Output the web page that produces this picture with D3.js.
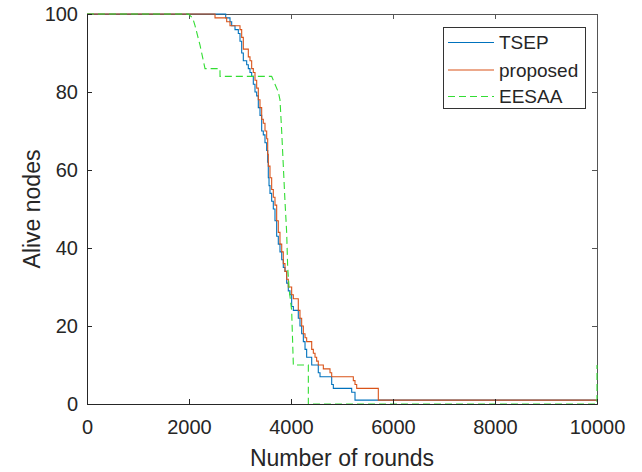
<!DOCTYPE html>
<html>
<head>
<meta charset="utf-8">
<script src="https://cdn.jsdelivr.net/npm/d3@7"></script>
<style>
  html, body { margin: 0; padding: 0; background: #fff; }
  svg { display: block; font-family: "Liberation Sans", Arial, Helvetica, sans-serif; }
</style>
</head>
<body>
<svg id="chart" width="642" height="472"></svg>
<script>
// ---- data ----
const xTicks = [0, 2000, 4000, 6000, 8000, 10000];
const yTicks = [0, 20, 40, 60, 80, 100];
const seriesNames = ["TSEP", "proposed", "EESAA"];

const tsepRounds = [0,2720,2804,2837,2902,2967,3000,3033,3065,3131,3163,3196,3229,3261,3294,3327,3359,3392,3425,3457,3490,3523,3543,3555,3569,3588,3621,3653,3686,3719,3751,3784,3818,3849,3882,3915,3947,3980,4013,4046,4143,4176,4209,4242,4275,4307,4406,4535,4569,4798,4830,5190,5255,10000];
const tsepAlive  = [100,99,98,97,96,95,93,90,88,87,86,85,84,82,80,79,76,74,70,69,67,65,62,58,56,54,52,50,47,43,41,39,37,35,34,31,29,28,25,24,22,20,18,16,14,12,10,8,7,5,4,3,1,1];

const propRounds = [0,2510,2739,2804,3000,3033,3065,3163,3196,3229,3261,3294,3327,3359,3392,3425,3457,3490,3523,3543,3555,3588,3621,3653,3686,3719,3751,3784,3818,3849,3882,3915,3947,4013,4046,4143,4176,4209,4242,4275,4307,4406,4438,4471,4503,4535,4634,4765,4798,5222,5255,5288,5712,10000];
const propAlive  = [100,99,98,97,96,94,91,89,88,86,85,83,81,78,76,73,72,70,68,64,61,58,55,53,51,47,44,41,39,36,34,32,30,28,27,24,22,20,18,17,16,14,13,12,11,10,9,8,7,6,5,4,1,1];

const eesaaRounds = [0,1987,2072,2118,2216,2314,2608,2608,3621,3751,3784,3817,3882,3915,3935,3967,4013,4046,4340,4340,10000,10000];
const eesaaAlive  = [100,100,99,97,92,86,86,84,84,80,78,70,52,44,35,29,24,10,10,0,0,10];

// ---- layout ----
const svg = d3.select("#chart");
const L = 87, R = 597, T = 14, B = 404;
const x = d3.scaleLinear().domain([0, 10000]).range([L, R]);
const y = d3.scaleLinear().domain([0, 100]).range([B, T]);
const textColor = "#262626";

svg.append("rect").attr("width", 642).attr("height", 472).attr("fill", "#fff");

// box (top/right)
const topAx = svg.append("g").attr("transform", `translate(0,${T})`)
  .call(d3.axisTop(x).tickValues(xTicks).tickSize(-5).tickFormat(""));
const rightAx = svg.append("g").attr("transform", `translate(${R},0)`)
  .call(d3.axisRight(y).tickValues(yTicks).tickSize(-5).tickFormat(""));
[topAx, rightAx].forEach(g => {
  g.selectAll("path").attr("stroke", "#555").attr("stroke-width", 1);
  g.selectAll("line").attr("stroke", "#555");
});

// series
const series = [
  { name: "TSEP", r: tsepRounds, a: tsepAlive, color: "#0072BD", dash: null, curve: d3.curveStepAfter },
  { name: "proposed", r: propRounds, a: propAlive, color: "#D95319", dash: null, curve: d3.curveStepAfter },
  { name: "EESAA", r: eesaaRounds, a: eesaaAlive, color: "#33dd33", dash: "7,4", curve: d3.curveLinear }
];

series.forEach(s => {
  const pts = s.r.map((v, i) => [v, s.a[i]]);
  const line = d3.line().x(d => x(d[0])).y(d => y(d[1])).curve(s.curve);
  svg.append("path").datum(pts)
    .attr("d", line)
    .attr("fill", "none")
    .attr("stroke", s.color)
    .attr("stroke-width", 1.1)
    .attr("stroke-dasharray", s.dash);
});

// bottom / left axes
const xAx = svg.append("g").attr("transform", `translate(0,${B})`)
  .call(d3.axisBottom(x).tickValues(xTicks).tickSize(-5).tickPadding(16).tickFormat(d3.format("d")));
const yAx = svg.append("g").attr("transform", `translate(${L},0)`)
  .call(d3.axisLeft(y).tickValues(yTicks).tickSize(-5).tickPadding(9).tickFormat(d3.format("d")));
[xAx, yAx].forEach(g => {
  g.selectAll("path").attr("stroke", textColor).attr("stroke-width", 1);
  g.selectAll("line").attr("stroke", textColor);
  g.selectAll("text").attr("fill", textColor).attr("font-size", 20)
    .attr("font-family", "'Liberation Sans', Arial, sans-serif");
});

// axis labels
svg.append("text")
  .attr("x", (L + R) / 2).attr("y", 466)
  .attr("text-anchor", "middle")
  .attr("font-size", 23).attr("fill", textColor)
  .text("Number of rounds");
svg.append("text")
  .attr("transform", `translate(40,${(T + B) / 2}) rotate(-90)`)
  .attr("text-anchor", "middle")
  .attr("font-size", 23).attr("fill", textColor)
  .text("Alive nodes");

// legend
const lg = svg.append("g");
lg.append("rect").attr("x", 443.5).attr("y", 27.5).attr("width", 142).attr("height", 81)
  .attr("fill", "#fff").attr("stroke", "#333").attr("stroke-width", 1);
const legY = [42.5, 70, 96.5];
series.forEach((s, i) => {
  lg.append("line").attr("x1", 448).attr("x2", 494)
    .attr("y1", legY[i]).attr("y2", legY[i])
    .attr("stroke", s.color).attr("stroke-width", 1.1)
    .attr("stroke-dasharray", s.dash);
  lg.append("text").attr("x", 499).attr("y", legY[i])
    .attr("dy", "0.35em").attr("font-size", 19).attr("fill", textColor)
    .text(seriesNames[i]);
});
</script>
</body>
</html>
